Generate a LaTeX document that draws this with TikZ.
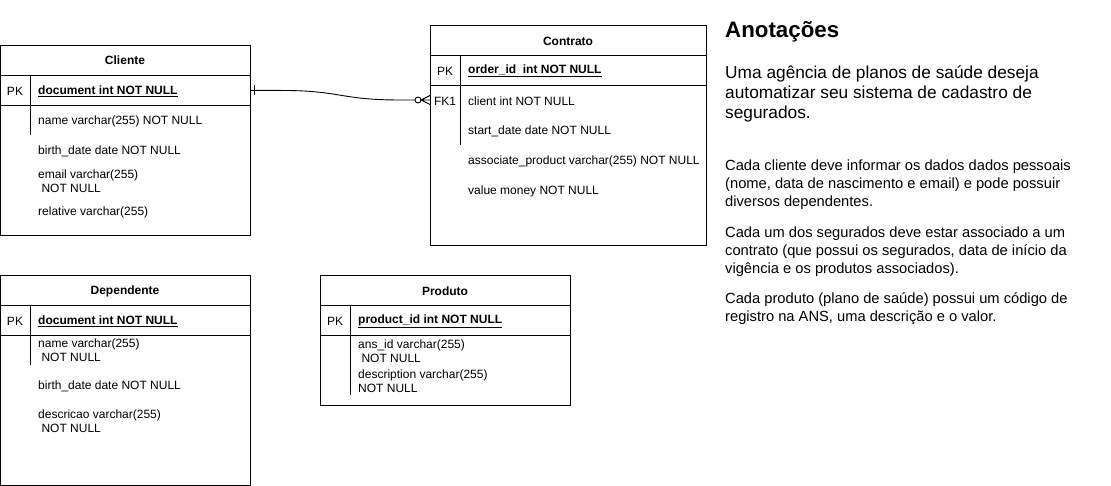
\documentclass[tikz,border=0pt]{standalone}
\usepackage{fontspec}
\setmainfont{Liberation Sans}
\usetikzlibrary{calc}
\begin{document}
\begin{tikzpicture}[x=1pt,y=-1pt,
  tbl/.style={draw,line width=0.9pt,anchor=north west,inner sep=0pt},
  pkrow/.style={draw,line width=0.9pt,anchor=north west,inner sep=0pt,minimum height=30pt},
  ttl/.style={font=\fontsize{12}{14}\selectfont\bfseries,anchor=center},
  fld/.style={font=\fontsize{12}{14}\selectfont,anchor=west,inner sep=0pt,align=left},
  key/.style={font=\fontsize{12}{14}\selectfont,anchor=center,inner sep=0pt},
  div/.style={line width=0.9pt},
  para/.style={anchor=north west,inner sep=0pt,align=left}]
\useasboundingbox (0,0) rectangle (1111,486);

% ---------- Cliente ----------
\node[tbl,minimum width=250pt,minimum height=190pt] (cli) at (0,45) {};
\node[pkrow,minimum width=250pt] (clipk) at (0,75) {};
\draw[div] (30,75) -- (30,135);
\node[ttl] (clit) at (125,60) {Cliente};
\node[key] (clik) at (15,91) {PK};
\node[fld] (clif1) at (38,91) {\bfseries\underline{document int NOT NULL}};
\node[fld] (clif2) at (38,121) {name varchar(255) NOT NULL};
\node[fld] (clif3) at (38,151) {birth\_date date NOT NULL};
\node[fld] (clif4) at (38,181) {email varchar(255)\\\ NOT NULL};
\node[fld] (clif5) at (38,212) {relative varchar(255)};

% ---------- Contrato ----------
\node[tbl,minimum width=276pt,minimum height=220pt] (con) at (430,25) {};
\node[pkrow,minimum width=276pt] (conpk) at (430,55) {};
\coordinate (cofk) at (430,100);
\draw[div] (460,55) -- (460,145);
\node[ttl] (cont) at (568,41) {Contrato};
\node[key] (conk) at (445,71) {PK};
\node[key] (confk) at (445,101) {FK1};
\node[fld] (conf1) at (468,71) {\bfseries\underline{order\_id\ \ int NOT NULL}};
\node[fld] (conf2) at (468,101) {client int NOT NULL};
\node[fld] (conf3) at (468,131) {start\_date date NOT NULL};
\node[fld] (conf4) at (468,161) {associate\_product varchar(255) NOT NULL};
\node[fld] (conf5) at (468,191) {value money NOT NULL};

% ---------- Dependente ----------
\node[tbl,minimum width=250pt,minimum height=210pt] (dep) at (0,275) {};
\node[pkrow,minimum width=250pt] (deppk) at (0,305) {};
\draw[div] (30,305) -- (30,365);
\node[ttl] (dept) at (125,291) {Dependente};
\node[key] (depk) at (15,321) {PK};
\node[fld] (depf1) at (38,321) {\bfseries\underline{document int NOT NULL}};
\node[fld] (depf2) at (38,350) {name varchar(255)\\\ NOT NULL};
\node[fld] (depf3) at (38,386) {birth\_date date NOT NULL};
\node[fld] (depf4) at (38,421) {descricao varchar(255)\\\ NOT NULL};

% ---------- Produto ----------
\node[tbl,minimum width=250pt,minimum height=130pt] (pro) at (320,275) {};
\node[pkrow,minimum width=250pt] (propk) at (320,305) {};
\draw[div] (350,305) -- (350,395);
\node[ttl] (prot) at (445,291) {Produto};
\node[key] (prok) at (335,321) {PK};
\node[fld] (prof1) at (358,321) {\bfseries\underline{product\_id int NOT NULL}};
\node[fld] (prof2) at (358,351) {ans\_id varchar(255)\\\ NOT NULL};
\node[fld] (prof3) at (358,381) {description varchar(255)\\NOT NULL};

% ---------- Connector ----------
\draw[line width=0.9pt] (clipk.east) -- ++(30,0)
  .. controls +(60,0) and +(-60,0) .. ($(cofk)+(-30,0)$) -- ($(cofk)+(-15,0)$);
\draw[line width=0.9pt] ($(clipk.east)+(4,-5)$) -- ++(0,10);
\draw[line width=0.9pt] ($(cofk)+(-12,0)$) circle (3pt);
\draw[line width=0.9pt] ($(cofk)+(-9,0)$) -- (cofk)
  ($(cofk)+(-9,0)$) -- ($(cofk)+(0,-4.5)$)
  ($(cofk)+(-9,0)$) -- ($(cofk)+(0,4.5)$);

% ---------- Anotacoes ----------
\node[para,font=\fontsize{22.3}{26}\selectfont\bfseries] (ann) at (725,21) {Anotações};
\node[para,font=\fontsize{17.3}{20}\selectfont] (p1) at (725,66) {Uma agência de planos de saúde deseja\\automatizar seu sistema de cadastro de\\segurados.};
\node[para,font=\fontsize{14.7}{18}\selectfont] (p2) at (725,160) {Cada cliente deve informar os dados dados pessoais\\(nome, data de nascimento e email) e pode possuir\\diversos dependentes.};
\node[para,font=\fontsize{14.7}{18}\selectfont] (p3) at (725,227) {Cada um dos segurados deve estar associado a um\\contrato (que possui os segurados, data de início da\\vigência e os produtos associados).};
\node[para,font=\fontsize{14.7}{18}\selectfont] (p4) at (725,292) {Cada produto (plano de saúde) possui um código de\\registro na ANS, uma descrição e o valor.};
\end{tikzpicture}
\end{document}
